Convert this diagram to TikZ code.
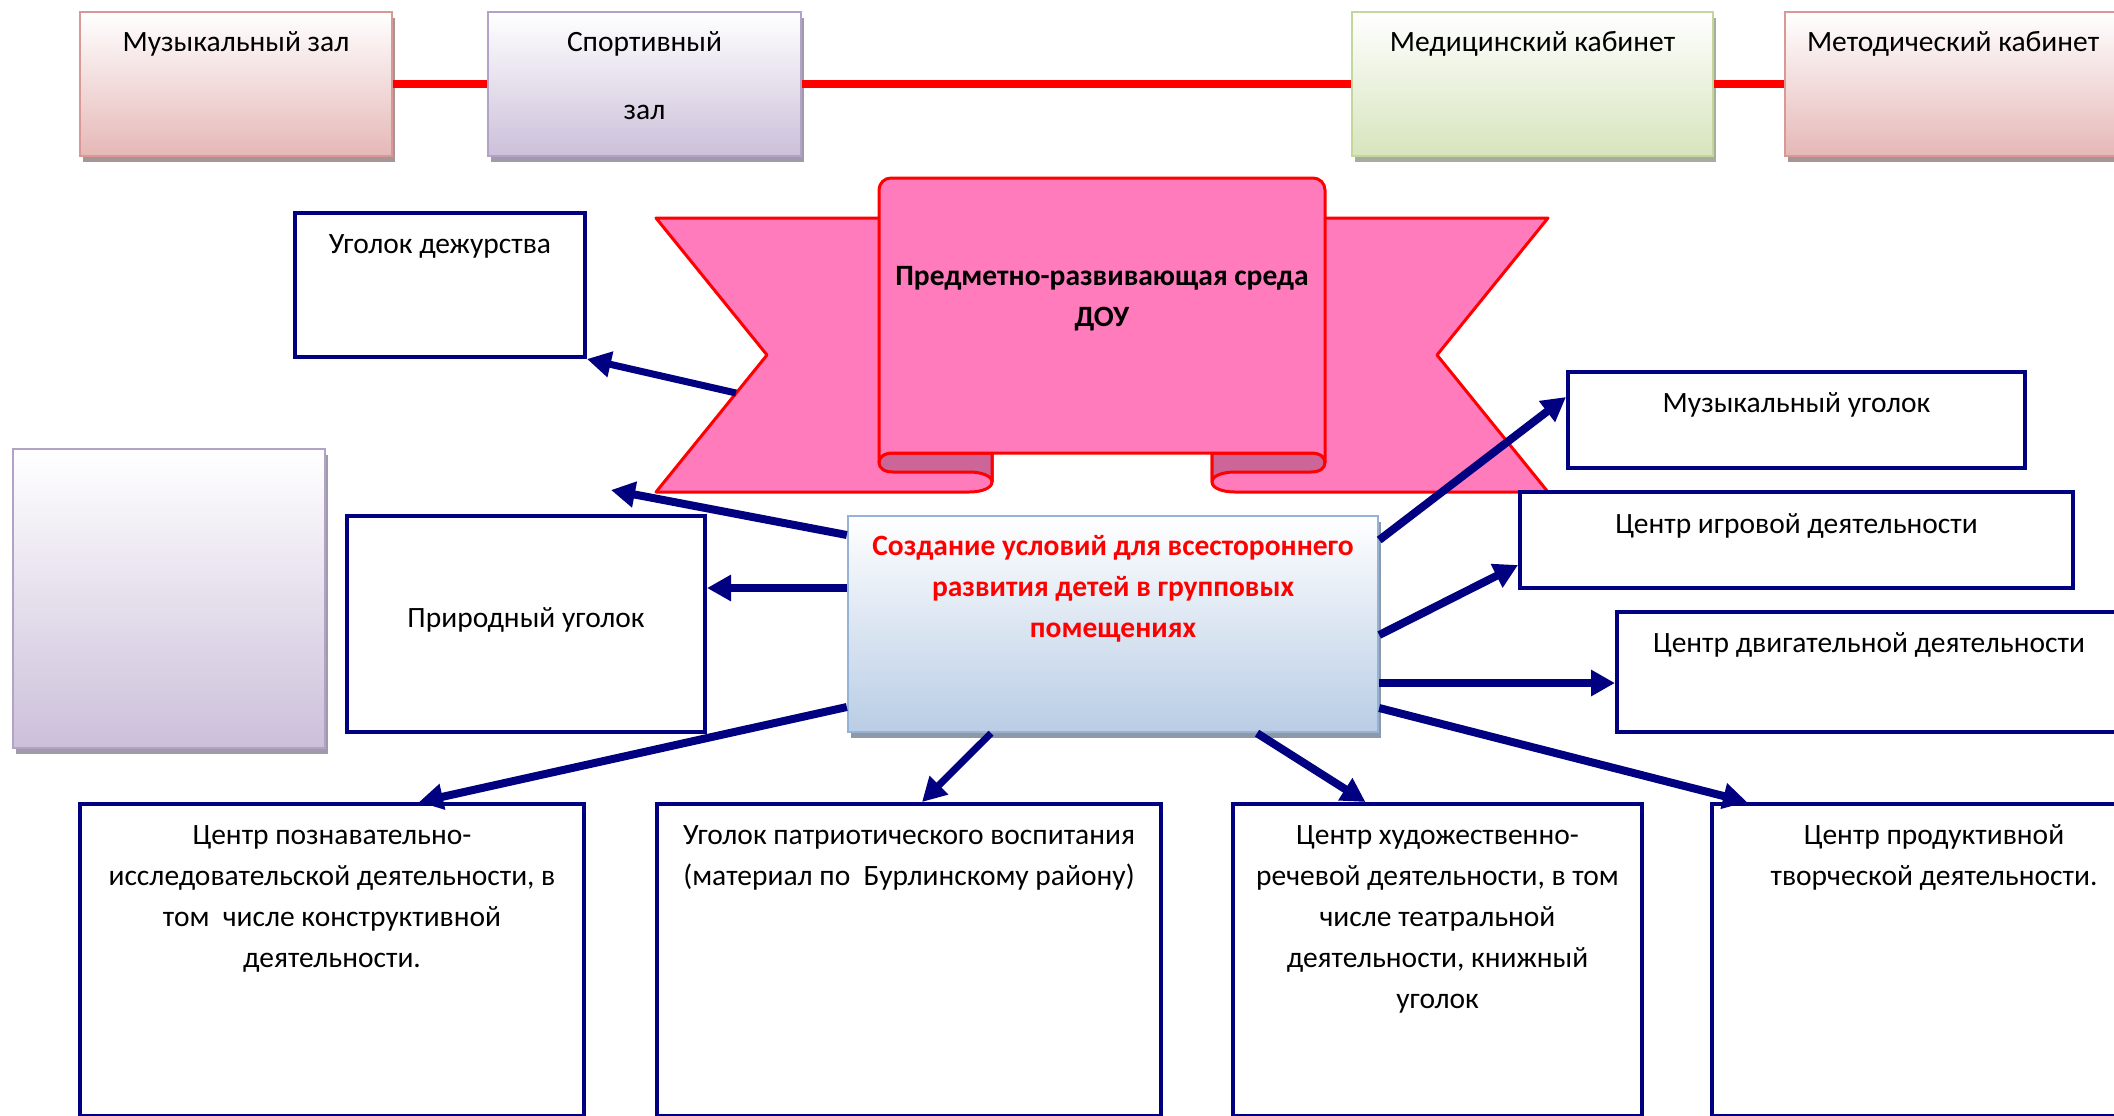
\documentclass[tikz,border=0pt]{standalone}
\usepackage{fontspec}
\setmainfont{Carlito}
\usetikzlibrary{arrows.meta,shadows}
\definecolor{navyc}{HTML}{000080}
\definecolor{ribpink}{HTML}{FF7BBB}
\definecolor{ribdark}{HTML}{CC6699}
\definecolor{rosebot}{HTML}{E5B8B7}
\definecolor{roseline}{HTML}{D99795}
\definecolor{roseshad}{HTML}{A89494}
\definecolor{lavbot}{HTML}{CCC0DA}
\definecolor{lavline}{HTML}{B3A2C7}
\definecolor{lavshad}{HTML}{A09AAA}
\definecolor{grnbot}{HTML}{D7E4BD}
\definecolor{grnline}{HTML}{C3D69B}
\definecolor{grnshad}{HTML}{A8AC9C}
\definecolor{blubot}{HTML}{B9CDE5}
\definecolor{bluline}{HTML}{95B3D7}
\definecolor{blushad}{HTML}{8D99A6}
\tikzset{
  nbox/.style={draw=navyc, line width=2pt, fill=white, rectangle, inner sep=0pt},
  lbl/.style={font=\fontsize{14.75}{20.5}\selectfont, align=center, inner sep=0pt, anchor=base},
  hbox/.style={rectangle, inner sep=0pt, line width=1.2pt},
  rosebox/.style={hbox, top color=white, bottom color=rosebot, draw=roseline, drop shadow={shadow xshift=1.5pt, shadow yshift=-3pt, fill=roseshad, opacity=1}},
  lavbox/.style={hbox, top color=white, bottom color=lavbot, draw=lavline, drop shadow={shadow xshift=1.5pt, shadow yshift=-3pt, fill=lavshad, opacity=1}},
  grnbox/.style={hbox, top color=white, bottom color=grnbot, draw=grnline, drop shadow={shadow xshift=1.5pt, shadow yshift=-3pt, fill=grnshad, opacity=1}},
  blubox/.style={hbox, top color=white, bottom color=blubot, draw=bluline, drop shadow={shadow xshift=1.5pt, shadow yshift=-3pt, fill=blushad, opacity=1}},
  arr/.style={draw=navyc, line width=4pt, -{Triangle[length=12pt,width=12.5pt]}},
  ribbon/.style={fill=ribpink, draw=red, line width=1.5pt, line join=round},
  ribbondark/.style={fill=ribdark, draw=red, line width=1.5pt, line join=round},
}
\begin{document}
\begin{tikzpicture}[x=0.5pt, y=-0.5pt]
\useasboundingbox (0,0) rectangle (2114,1115);
\clip (0,0) rectangle (2114,1115);
\fill[white] (0,0) rectangle (2114,1115);

% top row
\node[rosebox, minimum width=156pt, minimum height=72pt] (mz) at (236,84) {};
\node[lavbox, minimum width=156.5pt, minimum height=72pt] (sp) at (644.5,84) {};
\node[grnbox, minimum width=180.5pt, minimum height=72pt] (med) at (1532.5,84) {};
\node[rosebox, minimum width=168pt, minimum height=72pt] (met) at (1953,84) {};
\draw[red, line width=4pt] (mz.east) -- (sp.west) (sp.east) -- (med.west) (med.east) -- (met.west);
\node[lbl] (mzt) at (236,51) {Музыкальный зал};
\node[lbl] (spt) at (644.5,119) {Спортивный\\[13.25pt]зал};
\node[lbl] (medt) at (1532.5,51) {Медицинский кабинет};
\node[lbl] (mett) at (1953,51) {Методический кабинет};

% big left box
\node[lavbox, minimum width=156pt, minimum height=149.5pt] (bigl) at (169,598.5) {};

% ribbon
\path[ribbon] (900,218) -- (656,218) -- (767,355) -- (656,492) -- (969,492) .. controls (982,492) and (992,488) .. (992,482) -- (992,453) -- (900,453) -- cycle;
\path[ribbon] (1304,218) -- (1548,218) -- (1437,355) -- (1548,492) -- (1235,492) .. controls (1222,492) and (1212,488) .. (1212,482) -- (1212,453) -- (1304,453) -- cycle;
\path[ribbondark] (992,453) -- (893,453) .. controls (884,453) and (879,457) .. (879,462.5) .. controls (879,468) and (884,472) .. (893,472) -- (969,472) .. controls (982,472) and (992,476) .. (992,482) -- cycle;
\path[ribbondark] (1212,453) -- (1311,453) .. controls (1320,453) and (1325,457) .. (1325,462.5) .. controls (1325,468) and (1320,472) .. (1311,472) -- (1235,472) .. controls (1222,472) and (1212,476) .. (1212,482) -- cycle;
\path[ribbon] (879,462.5) [rounded corners=6pt] -- (879,178) -- (1325,178) -- (1325,300) [sharp corners] -- (1325,462.5) .. controls (1325,457) and (1320,453) .. (1311,453) -- (893,453) .. controls (884,453) and (879,457) .. (879,462.5) -- cycle;
\node[lbl, font=\bfseries\fontsize{14.75}{20.5}\selectfont] (ribt) at (1102,326) {Предметно-развивающая среда\\ДОУ};
\coordinate (ribedge) at (736,393);
\coordinate (free) at (611,490);

% navy boxes
\node[nbox, minimum width=145pt, minimum height=72pt] (duty) at (440,285) {};
\node[lbl] (dutyt) at (440,253) {Уголок дежурства};
\node[nbox, minimum width=179pt, minimum height=108pt] (nat) at (526,624) {};
\node[lbl] (natt) at (526,627) {Природный уголок};
\node[nbox, minimum width=228.5pt, minimum height=48pt] (mus) at (1796.5,420) {};
\node[lbl] (must) at (1796.5,412) {Музыкальный уголок};
\node[nbox, minimum width=276.5pt, minimum height=48pt] (play) at (1796.5,540) {};
\node[lbl] (playt) at (1796.5,533) {Центр игровой деятельности};
\node[nbox, minimum width=252pt, minimum height=60pt] (mot) at (1869,672) {};
\node[lbl] (mott) at (1869,652) {Центр двигательной деятельности};
\node[nbox, minimum width=252pt, minimum height=156pt] (b1) at (332,960) {};
\node[lbl] (b1t) at (332,967) {Центр познавательно-\\исследовательской деятельности, в\\том\ \ числе конструктивной\\деятельности.};
\node[nbox, minimum width=252pt, minimum height=156pt] (b2) at (909,960) {};
\node[lbl] (b2t) at (909,885) {Уголок патриотического воспитания\\(материал по\ \ Бурлинскому району)};
\node[nbox, minimum width=204.5pt, minimum height=156pt] (b3) at (1437.5,960) {};
\node[lbl] (b3t) at (1437.5,1008) {Центр художественно-\\речевой деятельности, в том\\числе театральной\\деятельности, книжный\\уголок};
\node[nbox, minimum width=222pt, minimum height=156pt] (b4) at (1934,960) {};
\node[lbl] (b4t) at (1934,885) {Центр продуктивной\\творческой деятельности.};

% central box
\node[blubox, minimum width=265pt, minimum height=108pt] (cen) at (1113,624) {};
\node[lbl, text=red, font=\bfseries\fontsize{14.75}{20.5}\selectfont] (cent) at (1113,637.5) {Создание условий для всестороннего\\развития детей в групповых\\помещениях};

% arrows
\draw[arr, line width=3.5pt] (ribedge) -- (duty.south east);
\draw[arr] ([yshift=44.5pt]cen.west) -- (free);
\draw[arr] ([yshift=18pt]cen.west) -- ([yshift=18pt]nat.east);
\draw[arr] ([yshift=-41.5pt]cen.west) -- ([xshift=43.5pt]b1.north);
\draw[arr, line width=3.5pt] ([xshift=-61pt]cen.south) -- ([xshift=6.5pt]b2.north);
\draw[arr] ([xshift=72pt]cen.south) -- ([xshift=-36pt]b3.north);
\draw[arr] ([yshift=-42pt]cen.east) -- ([xshift=-93.5pt]b4.north);
\draw[arr] ([yshift=-29.5pt]cen.east) -- ([yshift=-5.5pt]mot.west);
\draw[arr] ([yshift=-5.5pt]cen.east) -- ([yshift=-12.5pt]play.west);
\draw[arr] ([yshift=42pt]cen.east) -- ([yshift=11.5pt]mus.west);
\end{tikzpicture}
\end{document}
